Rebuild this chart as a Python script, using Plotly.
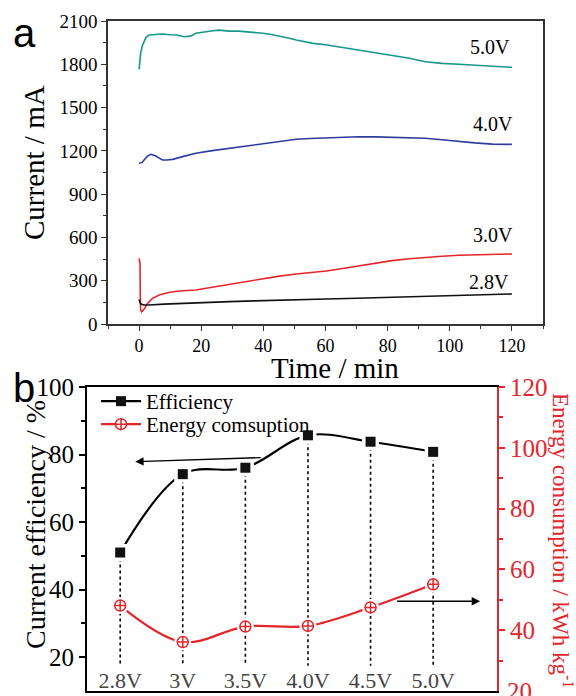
import plotly.graph_objects as go

# ---------------- panel a: current vs. time ----------------
t_50 = [0, 0.5, 1, 1.6, 2.2, 3.2, 5, 7.5, 10, 12, 14.5, 16.5, 18.3, 21, 23.7, 25.9, 29, 32,
        34.5, 37, 39.9, 42.5, 45.2, 48, 50.6, 53, 56, 60, 65, 70.6, 76, 81.4, 87, 92.1, 97.5,
        102.9, 108, 113.7, 120]
i_50 = [1765, 1876, 1925, 1963, 1985, 2003, 2008, 2010, 2005, 2003, 1991, 1995, 2015, 2025,
        2033, 2037, 2030, 2030, 2026, 2022, 2015, 2006, 1996, 1982, 1968, 1958, 1945, 1935,
        1918, 1899, 1882, 1864, 1842, 1818, 1806, 1800, 1795, 1790, 1779]

t_40 = [0, 1, 1.6, 2.8, 3.8, 5.4, 6.5, 7.5, 9, 10.8, 14, 18.3, 23, 29.1, 34, 39.9, 45, 50.6,
        55, 60.3, 65, 70.6, 76, 81.4, 87, 92.1, 97.5, 102.9, 108, 113.7, 120]
i_40 = [1114, 1120, 1137, 1165, 1176, 1164, 1150, 1137, 1137, 1141, 1160, 1183, 1200, 1218,
        1235, 1252, 1266, 1280, 1286, 1291, 1295, 1298, 1297, 1294, 1291, 1287, 1277, 1264,
        1255, 1247, 1245]

t_30 = [0, 0.3, 0.4, 0.5, 0.8, 1.6, 2.7, 4.3, 6.5, 9.5, 12.9, 18.3, 23.5, 29.1, 34.5, 39.9,
        45.2, 50.6, 55.5, 60.3, 65, 70.6, 76, 81.4, 87, 92.1, 97.5, 102.9, 108, 113.7, 120]
i_30 = [455, 420, 200, 100, 85, 102, 143, 178, 201, 218, 229, 236, 255, 275, 296, 317, 332,
        346, 357, 367, 383, 402, 421, 439, 452, 462, 470, 476, 480, 483, 485]

t_28 = [0, 0.5, 1.5, 3.2, 8, 12.9, 20, 29.1, 37, 45.2, 52, 60.3, 70, 81.4, 92, 102.9, 110, 120]
i_28 = [170, 140, 132, 132, 138, 143, 148, 155, 160, 166, 170, 173, 178, 185, 193, 201, 205, 208]

curve_labels = ["5.0V", "4.0V", "3.0V", "2.8V"]
curve_colors = ["#17978a", "#2f3c9e", "#e3262b", "#111111"]
label_t = [113, 113.8, 113.8, 112.5]
label_i = [1920, 1386, 617, 291]

# ---------------- panel b: efficiency / energy vs. voltage ----------------
voltages = ["2.8V", "3V", "3.5V", "4.0V", "4.5V", "5.0V"]
efficiency = [51.0, 74.2, 76.1, 85.7, 83.8, 80.8]
energy = [48.1, 36.1, 41.2, 41.4, 47.5, 55.1]
guide_floor = 17.5
energy_ticks = [20, 40, 60, 80, 100, 120]

SERIF = "Liberation Serif"
SANS = "Liberation Sans"
RED = "#e3262b"
W, H = 576, 696

fig = go.Figure()

for t, cur, col in zip([t_50, t_40, t_30, t_28], [i_50, i_40, i_30, i_28], curve_colors):
    fig.add_trace(go.Scatter(x=t, y=cur, mode="lines", line=dict(color=col, width=1.6),
                             xaxis="x", yaxis="y", showlegend=False, hoverinfo="skip"))

pos = list(range(len(voltages)))

# dotted drop lines from each efficiency point
gx, gy = [], []
for p, e in zip(pos, efficiency):
    gx += [p, p, None]
    gy += [e, guide_floor, None]
fig.add_trace(go.Scatter(x=gx, y=gy, mode="lines", line=dict(color="black", width=1.6, dash="dot"),
                         xaxis="x2", yaxis="y2", showlegend=False, hoverinfo="skip"))

# connecting curves
fig.add_trace(go.Scatter(x=pos, y=efficiency, mode="lines",
                         line=dict(color="black", width=2.2, shape="spline", smoothing=1.0),
                         xaxis="x2", yaxis="y2", showlegend=False))
fig.add_trace(go.Scatter(x=pos, y=energy, mode="lines",
                         line=dict(color=RED, width=2.2, shape="spline", smoothing=1.0),
                         xaxis="x2", yaxis="y3", showlegend=False))

# white halos leaving a small gap around the symbols
fig.add_trace(go.Scatter(x=pos, y=efficiency, mode="markers",
                         marker=dict(symbol="square", size=17, color="white"),
                         xaxis="x2", yaxis="y2", showlegend=False, hoverinfo="skip"))
fig.add_trace(go.Scatter(x=pos, y=energy, mode="markers",
                         marker=dict(symbol="circle", size=17, color="white"),
                         xaxis="x2", yaxis="y3", showlegend=False, hoverinfo="skip"))

fig.add_trace(go.Scatter(x=pos, y=efficiency, mode="markers",
                         marker=dict(symbol="square", size=10, color="#111111"),
                         xaxis="x2", yaxis="y2", showlegend=False))
fig.add_trace(go.Scatter(x=pos, y=energy, mode="markers",
                         marker=dict(symbol="circle-cross", size=11, color="white",
                                     line=dict(color=RED, width=1.5)),
                         xaxis="x2", yaxis="y3", showlegend=False))

# legend entries, one legend box per row
fig.add_trace(go.Scatter(x=[None], y=[None], mode="lines+markers", name="Efficiency",
                         line=dict(color="black", width=2.2),
                         marker=dict(symbol="square", size=10, color="#111111"),
                         xaxis="x2", yaxis="y2", legend="legend"))
fig.add_trace(go.Scatter(x=[None], y=[None], mode="lines+markers", name="Energy comsuption",
                         line=dict(color=RED, width=2.2),
                         marker=dict(symbol="circle-cross", size=11, color="white",
                                     line=dict(color=RED, width=1.5)),
                         xaxis="x2", yaxis="y3", legend="legend2"))

axis_common = dict(showgrid=False, zeroline=False, showline=True, automargin=False,
                   ticks="outside", ticklabeloverflow="allow")
legend_common = dict(xanchor="left", yanchor="top", bgcolor="rgba(0,0,0,0)",
                     font=dict(family=SERIF, size=21), itemwidth=40)

fig.update_layout(
    width=W, height=H,
    margin=dict(l=0, r=0, t=0, b=0),
    paper_bgcolor="white", plot_bgcolor="white",
    font=dict(family=SERIF, color="black"),
    xaxis=dict(**axis_common, domain=[108 / W, 543 / W], range=[-10, 130], anchor="y",
               tick0=0, dtick=20, ticklen=5, tickwidth=1.3, tickcolor="#333",
               minor=dict(dtick=10, ticklen=3, tickcolor="#333", ticks="outside"),
               linecolor="#333", linewidth=1.6, mirror=True,
               tickfont=dict(family=SERIF, size=18)),
    yaxis=dict(**axis_common, domain=[1 - 324 / H, 1 - 21 / H], range=[0, 2100], anchor="x",
               tick0=0, dtick=300, ticklen=5, tickwidth=1.3, tickcolor="#333",
               minor=dict(dtick=150, ticklen=3, tickcolor="#333", ticks="outside"),
               linecolor="#333", linewidth=1.6, mirror=True,
               tickfont=dict(family=SERIF, size=19)),
    xaxis2=dict(showgrid=False, zeroline=False, showline=True, automargin=False,
                domain=[87 / W, 497 / W], range=[-0.53, 6.02], anchor="y2",
                tickmode="array", tickvals=pos, ticktext=voltages, ticks="",
                ticklabelposition="inside", linecolor="black", linewidth=1.8, mirror=True,
                tickfont=dict(family=SERIF, size=22)),
    yaxis2=dict(**axis_common, domain=[1 - 691 / H, 1 - 387 / H], range=[10, 100],
                anchor="x2", tick0=0, dtick=20, ticklen=6, tickwidth=1.5, tickcolor="black",
                minor=dict(dtick=10, ticklen=4, tickcolor="black", ticks="outside"),
                linecolor="black", linewidth=1.8,
                tickfont=dict(family=SERIF, size=25)),
    yaxis3=dict(**axis_common, overlaying="y2", side="right", anchor="x2", range=[20, 120],
                tickmode="array", tickvals=energy_ticks,
                ticklen=6, tickwidth=1.5, tickcolor=RED,
                minor=dict(dtick=10, tick0=0, ticklen=4, tickcolor=RED, ticks="outside"),
                linecolor=RED, linewidth=1.8,
                tickfont=dict(family=SERIF, size=25, color=RED)),
    legend=dict(**legend_common, x=96 / W, y=1 - 381 / H),
    legend2=dict(**legend_common, x=96 / W, y=1 - 404 / H),
)


def label(x, y, text, size, family=SERIF, color="black", angle=0):
    return dict(x=x / W, y=1 - y / H, xref="paper", yref="paper", text=text,
                xanchor="center", yanchor="middle", textangle=angle, showarrow=False,
                font=dict(family=family, size=size, color=color))


ann = []
for lab, tx, iy in zip(curve_labels, label_t, label_i):
    ann.append(dict(x=tx, y=iy, xref="x", yref="y", text=lab, showarrow=False,
                    xanchor="center", yanchor="middle", font=dict(family=SERIF, size=20)))
ann += [
    label(24, 33, "a", 40, family=SANS),
    label(24, 388, "b", 40, family=SANS),
    label(335, 368, "Time / min", 29),
    label(34, 163, "Current / mA", 29, angle=-90),
    label(35, 525, "Current efficiency / %", 28, angle=-90),
    label(563, 540, "Energy consumption / kWh kg<sup>-1</sup>", 23, color=RED, angle=90),
    # lowest label of the right-hand axis, which sits on the bottom edge of the figure
    dict(x=505 / W, y=energy_ticks[0], xref="paper", yref="y3", text=str(energy_ticks[0]),
         xanchor="left", yanchor="middle", showarrow=False,
         font=dict(family=SERIF, size=25, color=RED)),
    # arrows pointing to the axis each curve belongs to
    dict(x=0.24, y=77.9, xref="x2", yref="y2", ax=2.27, ay=79.1, axref="x2", ayref="y2",
         showarrow=True, arrowhead=2, arrowsize=1.2, arrowwidth=1.4, arrowcolor="black",
         text=""),
    dict(x=5.75, y=49.5, xref="x2", yref="y3", ax=4.4, ay=49.5, axref="x2", ayref="y3",
         showarrow=True, arrowhead=2, arrowsize=1.2, arrowwidth=1.4, arrowcolor="black",
         text=""),
]
fig.update_layout(annotations=ann)

fig.write_html("out.html")
